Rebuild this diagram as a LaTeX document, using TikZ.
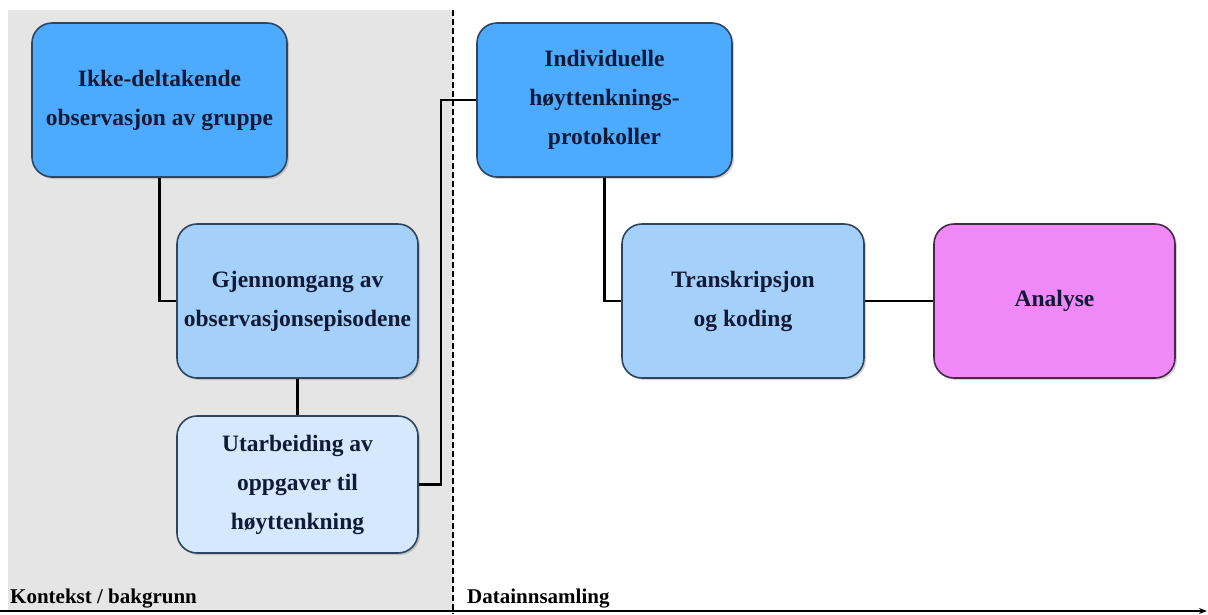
\documentclass[tikz,border=0pt]{standalone}
\usepackage{fontspec}
\setmainfont{Liberation Serif}
\usetikzlibrary{shadows, arrows.meta}

\definecolor{blaa}{HTML}{4DABFF}
\definecolor{lysblaa}{HTML}{A4D0FA}
\definecolor{blekblaa}{HTML}{D6E8FD}
\definecolor{rosa}{HTML}{F088F8}
\definecolor{kant}{HTML}{2E4560}
\definecolor{tekst}{HTML}{101A36}

\tikzset{
    boks/.style={draw=kant, line width=1.6pt, rounded corners=20pt, align=center,
        text=tekst, font=\bfseries\fontsize{23.5}{39}\selectfont, inner sep=0pt,
        drop shadow={shadow xshift=2pt, shadow yshift=-2pt, opacity=0.35}},
    link/.style={line width=2.4pt, black},
    fase/.style={anchor=base west, font=\bfseries\fontsize{21}{24}\selectfont, inner sep=0pt}
}

\begin{document}
\begin{tikzpicture}[x=1pt, y=-1pt]

    % 1. Rammen og bakgrunnen
    \useasboundingbox (0,0) rectangle (1208,614);
    \fill[gray!20] (8,10) rectangle (453,610);
    \draw[line width=2pt, dash pattern=on 6pt off 3pt] (453,10) -- (453,614);
    \draw[line width=2.4pt, -{Stealth[length=8pt, width=6pt]}] (0,611) -- (1207,611);

    % 2. Boksene i kontekstdelen
    \node[boks, fill=blaa, minimum width=255pt, minimum height=154pt] (obs) at (159.5,100)
        {Ikke-deltakende\\observasjon av gruppe};
    \node[boks, fill=lysblaa, minimum width=241pt, minimum height=154pt] (gjen) at (297.5,301)
        {Gjennomgang av\\observasjonsepisodene};
    \node[boks, fill=blekblaa, minimum width=241pt, minimum height=137pt] (utarb) at (297.5,484.5)
        {Utarbeiding av\\oppgaver til\\høyttenkning};

    % 3. Boksene i datainnsamlingen
    \node[boks, fill=blaa, minimum width=255pt, minimum height=154pt] (prot) at (604.5,100)
        {Individuelle\\høyttenknings-\\protokoller};
    \node[boks, fill=lysblaa, minimum width=242pt, minimum height=154pt] (trans) at (743,301)
        {Transkripsjon\\og koding};
    \node[boks, fill=rosa, draw=black!70!rosa, minimum width=241pt, minimum height=154pt] (ana) at (1054.5,301)
        {Analyse};

    % 4. Forbindelsene
    \coordinate (knekk) at (441,0);
    \draw[link] (obs.south) |- (gjen.west);
    \draw[link] (gjen.south) -- (utarb.north);
    \draw[link] (utarb.east) -| (knekk |- prot.west) -- (prot.west);
    \draw[link] (prot.south) |- (trans.west);
    \draw[link] (trans.east) -- (ana.west);

    % 5. Fasene
    \node[fase] (kontekst) at (10,603) {Kontekst / bakgrunn};
    \node[fase] (data) at (467,603) {Datainnsamling};

\end{tikzpicture}
\end{document}
